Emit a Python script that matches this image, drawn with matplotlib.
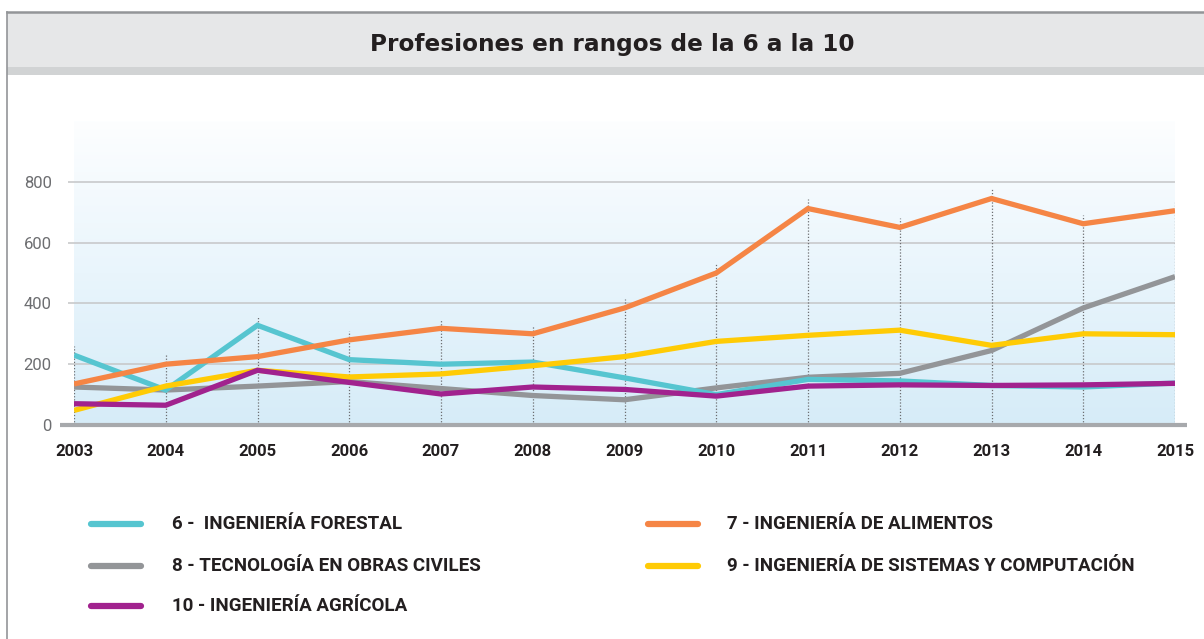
import numpy as np
import matplotlib
matplotlib.use("Agg")
import matplotlib.pyplot as plt
from matplotlib.lines import Line2D
from matplotlib.patches import Rectangle
from matplotlib.colors import LinearSegmentedColormap

# ---------------------------------------------------------------------------
# Data
# ---------------------------------------------------------------------------
years = list(range(2003, 2016))

forestal  = [230, 115, 328, 215, 200, 207, 155, 100, 150, 145, 130, 125, 138]
alimentos = [135, 200, 225, 280, 318, 300, 385, 500, 712, 650, 745, 662, 705]
civiles   = [125, 115, 128, 143, 120, 97, 83, 122, 157, 170, 245, 385, 488]
sistemas  = [48, 128, 180, 158, 168, 195, 225, 275, 295, 312, 262, 300, 297]
agricola  = [70, 65, 180, 140, 102, 125, 117, 95, 128, 132, 130, 132, 137]

labels = [
    "6 -  INGENIERÍA FORESTAL",
    "7 - INGENIERÍA DE ALIMENTOS",
    "8 - TECNOLOGÍA EN OBRAS CIVILES",
    "9 - INGENIERÍA DE SISTEMAS Y COMPUTACIÓN",
    "10 - INGENIERÍA AGRÍCOLA",
]
series = [forestal, alimentos, civiles, sistemas, agricola]
colors = ["#56c5d0", "#f58545", "#939598", "#ffcb05", "#a1228e"]

yticks = [0, 200, 400, 600, 800]
title = "Profesiones en rangos de la 6 a la 10"

NARROW = ["Roboto", "DejaVu Sans"]

# ---------------------------------------------------------------------------
# Figure / frame
# ---------------------------------------------------------------------------
W, H = 1204, 639
fig = plt.figure(figsize=(W / 100, H / 100), dpi=100)
fig.patch.set_facecolor("white")


def fx(px):
    return px / W


def fy(py):
    return 1 - py / H


# title band
fig.add_artist(Rectangle((fx(7), fy(67)), 1, fy(12) - fy(67),
                         transform=fig.transFigure, facecolor="#e6e7e8",
                         edgecolor="none"))
fig.add_artist(Rectangle((fx(7), fy(75)), 1, fy(67) - fy(75),
                         transform=fig.transFigure, facecolor="#d1d3d4",
                         edgecolor="none"))
fig.add_artist(Line2D([fx(7), 1], [fy(12), fy(12)], color="#939598", lw=1.8))
fig.add_artist(Line2D([fx(7), fx(7)], [fy(12), 0], color="#939598", lw=1.2))
fig.text(fx(612), fy(44), title, ha="center", va="center", fontsize=16.7,
         fontweight="bold", color="#231f20", family="DejaVu Sans")

# ---------------------------------------------------------------------------
# Axes
# ---------------------------------------------------------------------------
ax = fig.add_axes([fx(74), fy(425), fx(1175) - fx(74), fy(121) - fy(425)])
ax.set_xlim(years[0], years[-1])
ax.set_ylim(0, 1000)
for s in ax.spines.values():
    s.set_visible(False)

# gradient background
cmap = LinearSegmentedColormap.from_list("bg", ["#d6ecf8", "#e9f5fc", "#fdfeff"])
grad = np.linspace(0, 1, 256).reshape(-1, 1)
ax.imshow(grad, cmap=cmap, aspect="auto", origin="lower",
          extent=[years[0], years[-1], 0, 1000], zorder=0)

# grid lines
ax.hlines(yticks[1:], years[0] - 0.06, years[-1], color="#c8c9cb", lw=1.2,
          zorder=1, clip_on=False)
# baseline
ax.hlines(0, years[0] - 0.15, years[-1] + 0.13, color="#a7a9ac", lw=3,
          zorder=4, clip_on=False)

# dotted drop lines at each year
tops = np.max(np.array(series), axis=0) + 30
ax.vlines(years, 0, tops, colors="#6d6e71", linestyles=(0, (1, 1.5)),
          lw=0.9, zorder=2)

order = [2, 0, 3, 4, 1]
for i in order:
    ax.plot(years, series[i], color=colors[i], lw=3.8, zorder=3,
            solid_joinstyle="miter", solid_capstyle="butt")

ax.set_yticks(yticks)
ax.set_yticklabels([str(v) for v in yticks], fontsize=12, color="#6d6e71",
                   family=NARROW)
ax.set_xticks(years)
ax.set_xticklabels([str(y) for y in years], fontsize=12, fontweight="bold",
                   color="#231f20", family=NARROW)
ax.tick_params(axis="y", length=0, pad=16)
ax.tick_params(axis="x", length=0, pad=14)

# ---------------------------------------------------------------------------
# Legend (manual)
# ---------------------------------------------------------------------------
cols_x = [(91, 141, 172), (648, 698, 727)]
rows_y = [524, 566, 606]
slots = [(0, 0), (1, 0), (0, 1), (1, 1), (0, 2)]
for (c, r), lab, col in zip(slots, labels, colors):
    x0, x1, xt = cols_x[c]
    y = rows_y[r]
    fig.add_artist(Line2D([fx(x0), fx(x1)], [fy(y), fy(y)], color=col,
                          lw=4.5, solid_capstyle="round"))
    fig.text(fx(xt), fy(y), lab, ha="left", va="center", fontsize=13.5,
             fontweight="bold", color="#231f20", family=NARROW)

fig.savefig("out.png", dpi=100, facecolor="white")
